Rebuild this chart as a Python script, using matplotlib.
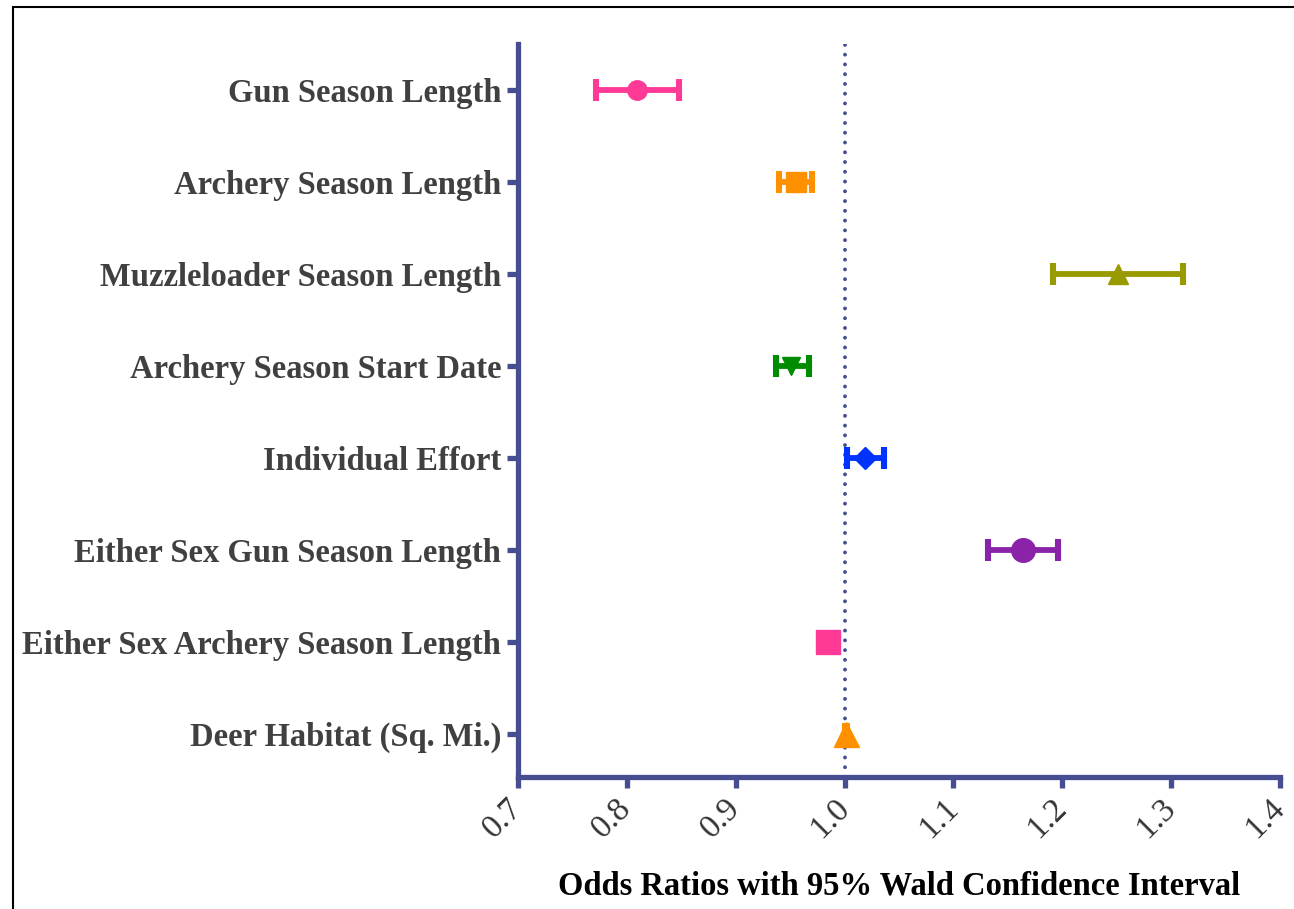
import matplotlib.pyplot as plt
from matplotlib.patches import Rectangle

# odds ratios and 95% Wald confidence limits, top to bottom
variables = ['Gun Season Length', 'Archery Season Length', 'Muzzleloader Season Length',
             'Archery Season Start Date', 'Individual Effort', 'Either Sex Gun Season Length',
             'Either Sex Archery Season Length', 'Deer Habitat (Sq. Mi.)']
odds_ratio = [0.809, 0.955, 1.251, 0.951, 1.019, 1.164, 0.985, 1.001]
lower_ci = [0.772, 0.940, 1.191, 0.937, 1.002, 1.132, 0.982, 1.000]
upper_ci = [0.848, 0.970, 1.311, 0.967, 1.036, 1.196, 0.988, 1.002]
xticks = [0.7, 0.8, 0.9, 1.0, 1.1, 1.2, 1.3, 1.4]

colors = ['#ff3a96', '#ff9100', '#999900', '#008c00', '#0033ff', '#8b23a8', '#ff3a96', '#ff9100']
markers = ['o', 's', '^', 'v', 'D', 'o', 's', '^']
msizes = [14, 14, 14, 13, 11, 17, 17, 18]

axis_col = '#464e91'
plt.rcParams['font.family'] = ['Liberation Serif', 'DejaVu Serif']

fig = plt.figure(figsize=(12.94, 9.09), dpi=100)
fig.patches.append(Rectangle((0.0097, -0.05), 1.1, 1.042, transform=fig.transFigure,
                             fill=False, edgecolor='black', linewidth=1.5))
ax = fig.add_axes([0.4003, 0.1452, 0.5889, 0.8064])

for i in range(len(variables)):
    ax.errorbar(odds_ratio[i], i,
                xerr=[[odds_ratio[i] - lower_ci[i]], [upper_ci[i] - odds_ratio[i]]],
                fmt=markers[i], color=colors[i], markersize=msizes[i],
                elinewidth=4.2, capsize=8, capthick=4.4, zorder=3)

ax.axvline(1.0, color=axis_col, linestyle=(0, (0.01, 2.5)), linewidth=2.8,
           dash_capstyle='round', zorder=1)

ax.set_xlim(0.7, 1.4)
ax.set_ylim(7.47, -0.5)
ax.set_xticks(xticks)
ax.set_xticklabels(['%.1f' % t for t in xticks], rotation=45, ha='right', va='center',
                   rotation_mode='anchor', fontsize=24, color='#333333')
ax.set_yticks(range(len(variables)))
ax.set_yticklabels(variables, fontsize=23.5, fontweight='bold', color='#404040')

for s in ['top', 'right']:
    ax.spines[s].set_visible(False)
for s in ['left', 'bottom']:
    ax.spines[s].set_color(axis_col)
    ax.spines[s].set_linewidth(3.8)
ax.tick_params(axis='both', colors=axis_col, width=3.8, length=8)
ax.tick_params(axis='x', labelcolor='#333333', pad=11)
ax.tick_params(axis='y', labelcolor='#404040', pad=4)

ax.set_xlabel('Odds Ratios with 95% Wald Confidence Interval', fontsize=23.5,
              fontweight='bold', color='black', labelpad=19)

fig.savefig('out.png', dpi=100)
